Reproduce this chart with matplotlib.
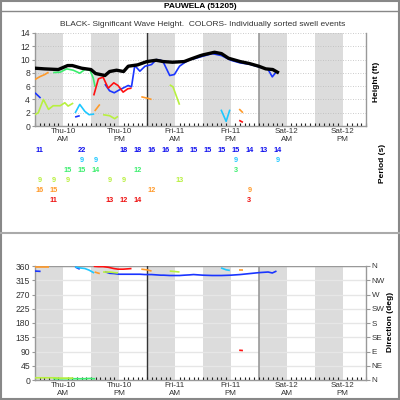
import matplotlib
matplotlib.use("Agg")
import matplotlib.pyplot as plt
from matplotlib.lines import Line2D
from matplotlib.patches import Rectangle

plt.rcParams['font.family'] = ['Liberation Sans', 'DejaVu Sans']

# ---------------- DATA ----------------
# hours since Thu-10 00:00
hs_hours = [0, 2, 5, 7, 8, 10, 12, 13, 15, 16, 17.5, 19, 20, 22, 24, 26, 27.5, 29.5, 32, 33.5,
            35.5, 36, 38.5, 40, 41.5, 44, 46, 48, 49.5, 51, 52]
hs_vals = [8.7, 8.6, 8.5, 9.1, 9.1, 8.7, 8.5, 7.9, 7.6, 8.2, 8.4, 8.2, 9.0, 9.2, 9.7, 9.9, 9.7, 9.6,
           9.7, 10.1, 10.6, 10.7, 11.1, 10.9, 10.2, 9.7, 9.4, 9.0, 8.6, 8.5, 8.1]

blue_a_h = [0, 1.2];  blue_a_v = [5.0, 4.2]
blue_b_h = [8.6, 9.6]; blue_b_v = [1.35, 1.55]
blue_h = [15, 16, 17, 18, 19, 20, 20.7, 21.4, 22.5, 23.6, 25, 26, 27, 27.6, 28.9, 29.9, 31, 32, 33.2,
          34, 36, 38, 40, 42, 44, 46, 48, 50, 50.9, 51.8]
blue_v = [6.3, 5.3, 5.0, 5.4, 5.75, 6.1, 5.9, 9.1, 8.25, 9.0, 9.25, 10.0, 9.9, 9.5, 7.6, 7.75, 9.0, 9.5,
          10.0, 10.1, 10.5, 10.9, 10.6, 9.9, 9.5, 9.3, 8.9, 8.5, 7.4, 8.2]

cyan_a_h = [8.6, 9.6, 10.7, 11.6, 12.7]; cyan_a_v = [1.95, 3.25, 2.2, 1.7, 1.8]
cyan_b_h = [39.9, 41.0, 41.8];           cyan_b_v = [2.46, 0.7, 2.46]

green_h = [3.9, 5.4, 6.8, 8.2, 9.6, 10.7, 11.8, 12.5, 12.9]
green_v = [8.05, 8.1, 8.6, 8.4, 7.95, 8.5, 8.4, 7.2, 5.9]

yell_a_h = [0, 0.7, 1.8, 2.9, 3.9, 5.4, 6.4, 7.1, 8.2]
yell_a_v = [1.7, 2.0, 4.0, 2.5, 3.05, 3.05, 3.5, 3.0, 3.45]
yell_b_h = [14.6, 16, 17.1, 17.8]; yell_b_v = [1.7, 1.55, 1.1, 1.45]
yell_c_h = [28.9, 29.6, 31];       yell_c_v = [6.2, 5.9, 3.2]

orng_a_h = [0, 1.1, 2.1, 2.9];     orng_a_v = [7.0, 7.45, 7.75, 8.1]
orng_b_h = [12.8, 13.9];           orng_b_v = [2.25, 3.25]
orng_c_h = [22.8, 24, 25];         orng_c_v = [4.4, 4.2, 4.0]
orng_d_h = [43.8, 44.6];           orng_d_v = [2.55, 2.0]

red_a_h = [12.6, 13.6, 14.6, 15.7, 16.9, 17.8, 18.9, 19.9, 20.7]
red_a_v = [4.6, 7.1, 7.35, 5.7, 6.5, 6.1, 5.1, 5.6, 5.7]
red_b_h = [43.8, 44.6];            red_b_v = [0.85, 0.55]

# directions (deg)
dir_blue_a = [344, 343]
dir_blue_b = [357, 350]
dir_blue = [342, 337, 336, 334, 334, 334, 334, 334, 334, 333, 333, 332, 331, 331, 330, 330, 330, 331,
            332, 333, 331, 330, 330, 331, 333, 336, 339, 341, 338, 344]
dir_cyan_a = [357, 354, 352, 347, 338]
dir_cyan_b = [354, 348, 346]
dir_green = [4, 4, 4, 4, 4, 4, 5, 4, 4]
dir_yell_a = [7, 7, 7, 7, 7, 6, 6, 6, 6]
dir_yell_b = [341, 341, 339, 338]
dir_yell_c = [344, 343, 341]
dir_orng_a = [358, 358, 358, 358]
dir_orng_b = [341, 336]
dir_orng_c = [350, 348, 344]
dir_orng_d = [348, 348]
dir_red_a = [359, 358, 358, 356, 352, 350, 350, 351, 352]
dir_red_b = [94, 93]

# periods (s) every 3 hours
per_blue = {1: 11, 10: 22, 19: 18, 22: 18, 25: 16, 28: 16, 31: 16, 34: 15, 37: 15, 40: 15, 43: 15,
            46: 14, 49: 13, 52: 14}
per_cyan = {10: 9, 13: 9, 43: 9, 52: 9}
per_green = {7: 15, 10: 15, 13: 14, 22: 12, 43: 3}
per_yell = {1: 9, 4: 9, 7: 9, 16: 9, 19: 9, 31: 13}
per_orng = {1: 16, 4: 15, 25: 12, 46: 9}
per_red = {4: 11, 16: 13, 19: 12, 22: 14, 46: 3}

tick_hours = [6, 18, 30, 42, 54, 66]
tick_labels = ['Thu-10\nAM', 'Thu-10\nPM', 'Fri-11\nAM', 'Fri-11\nPM', 'Sat-12\nAM', 'Sat-12\nPM']
dir_ticks = [0, 45, 90, 135, 180, 225, 270, 315, 360]
dir_names = ['N', 'NE', 'E', 'SE', 'S', 'SW', 'W', 'NW', 'N']

# ---------------- STYLE ----------------
C_BLUE = '#1a35ff'
C_CYAN = '#1ec8ff'
C_GREEN = '#3cee6e'
C_YELL = '#b8f040'
C_ORNG = '#ff9a2a'
C_RED = '#ff1010'
TXT = '#333333'
FS = 5.8

fig = plt.figure(figsize=(4, 4), dpi=100)
fig.patch.set_facecolor('white')

def px(x0, y0, x1, y1):
    return [x0 / 400, 1 - y1 / 400, (x1 - x0) / 400, (y1 - y0) / 400]

XMAX = 71

def style_time_axis(ax):
    ax.set_xlim(0, XMAX)
    for s in range(0, XMAX, 12):
        ax.axvspan(s, s + 6, color='#dcdcdc', lw=0, zorder=0)
    ax.axvline(24, color='#333333', lw=1.0, zorder=1)
    ax.axvline(48, color='#999999', lw=1.2, zorder=1)
    ax.set_xticks(tick_hours)
    ax.set_xticks(range(0, XMAX + 1), minor=True)
    ax.tick_params(axis='x', which='major', length=0, labelsize=FS, colors=TXT, pad=1.5)
    ax.tick_params(axis='x', which='minor', length=2, direction='in', color='#222222', width=0.8)
    ax.spines['top'].set_visible(False)
    for sp in ['left', 'bottom', 'right']:
        ax.spines[sp].set_color('#999999')
        ax.spines[sp].set_linewidth(1.0)

# ---------- top panel ----------
ax1 = fig.add_axes(px(35, 33, 366, 126))
style_time_axis(ax1)
ax1.set_xticklabels(tick_labels, linespacing=1.25)
ax1.set_ylim(0, 14)
ax1.set_yticks(range(0, 15, 2))
ax1.tick_params(axis='y', labelsize=FS + 0.4, colors=TXT, length=2, color='#999999', pad=1.5)
for yv in range(2, 15, 2):
    ax1.axhline(yv, color='#bbbbbb', lw=0.6, ls=(0, (1, 2)), zorder=0.5)

segs = [
    (blue_a_h, blue_a_v, C_BLUE), (blue_b_h, blue_b_v, C_BLUE), (blue_h, blue_v, C_BLUE),
    (cyan_a_h, cyan_a_v, C_CYAN), (cyan_b_h, cyan_b_v, C_CYAN),
    (green_h, green_v, C_GREEN),
    (yell_a_h, yell_a_v, C_YELL), (yell_b_h, yell_b_v, C_YELL), (yell_c_h, yell_c_v, C_YELL),
    (orng_a_h, orng_a_v, C_ORNG), (orng_b_h, orng_b_v, C_ORNG), (orng_c_h, orng_c_v, C_ORNG),
    (orng_d_h, orng_d_v, C_ORNG),
    (red_a_h, red_a_v, C_RED), (red_b_h, red_b_v, C_RED),
]
for h, v, c in segs:
    ax1.plot(h, v, color=c, lw=1.2, zorder=3, solid_capstyle='butt')
ax1.plot(hs_hours, hs_vals, color='black', lw=2.4, zorder=4)

# ---------- period table ----------
axp = fig.add_axes(px(35, 146, 366, 206))
axp.set_xlim(0, XMAX)
axp.set_ylim(6.5, 0.5)
axp.axis('off')
rows = [(per_blue, '#1010ee'), (per_cyan, C_CYAN), (per_green, C_GREEN),
        (per_yell, C_YELL), (per_orng, C_ORNG), (per_red, '#ee1010')]
for r, (d, c) in enumerate(rows, start=1):
    for hr, val in d.items():
        axp.text(hr, r, str(val), color=c, fontsize=5.3, fontweight='bold',
                 ha='center', va='center')

# ---------- direction panel ----------
ax2 = fig.add_axes(px(35, 266, 366, 380))
style_time_axis(ax2)
ax2.set_xticklabels(tick_labels, linespacing=1.2)
ax2.set_ylim(0, 360)
ax2.set_yticks(dir_ticks)
ax2.tick_params(axis='y', labelsize=FS + 0.4, colors=TXT, length=2, color='#999999', pad=1.5)
for yv in dir_ticks[1:]:
    ax2.axhline(yv, color='#e6e6e6', lw=1.0, zorder=0.5)
ax2.axhline(360, color='#999999', lw=1.0, zorder=0.6)

dsegs = [
    (blue_a_h, dir_blue_a, C_BLUE), (blue_b_h, dir_blue_b, C_BLUE), (blue_h, dir_blue, C_BLUE),
    (cyan_a_h, dir_cyan_a, C_CYAN), (cyan_b_h, dir_cyan_b, C_CYAN),
    (green_h, dir_green, C_GREEN),
    (yell_a_h, dir_yell_a, C_YELL), (yell_b_h, dir_yell_b, C_YELL), (yell_c_h, dir_yell_c, C_YELL),
    (orng_a_h, dir_orng_a, C_ORNG), (orng_b_h, dir_orng_b, C_ORNG), (orng_c_h, dir_orng_c, C_ORNG),
    (orng_d_h, dir_orng_d, C_ORNG),
    (red_a_h, dir_red_a, C_RED), (red_b_h, dir_red_b, C_RED),
]
for h, v, c in dsegs:
    ax2.plot(h, v, color=c, lw=1.2, zorder=3, solid_capstyle='butt')

ax2r = ax2.twinx()
ax2r.set_ylim(0, 360)
ax2r.set_yticks(dir_ticks)
ax2r.set_yticklabels(dir_names)
ax2r.tick_params(axis='y', labelsize=FS, colors=TXT, length=3, color='#999999', pad=1)
for sp in ax2r.spines.values():
    sp.set_visible(False)

# ---------- texts / frame ----------
fig.text(200 / 400, 1 - 6 / 400, 'PAUWELA (51205)', ha='center', va='center',
         fontsize=6.0, fontweight='bold', color='black')
fig.text(203 / 400, 1 - 25 / 400,
         'BLACK- Significant Wave Height.  COLORS- Individually sorted swell events',
         ha='center', va='center', fontsize=6.0, color=TXT)
fig.text(377 / 400, 1 - 82 / 400, 'Height (ft)', rotation=90, ha='center', va='center',
         fontsize=6.0, fontweight='bold', color='black')
fig.text(382 / 400, 1 - 163 / 400, 'Period (s)', rotation=90, ha='center', va='center',
         fontsize=6.0, fontweight='bold', color='black')
fig.text(391 / 400, 1 - 322 / 400, 'Direction (deg)', rotation=90, ha='center', va='center',
         fontsize=6.0, fontweight='bold', color='black')

fig.add_artist(Line2D([0.005, 0.998], [1 - 11 / 400] * 2, color='#888888', lw=1.0))
fig.add_artist(Line2D([0.0, 1.0], [1 - 233 / 400] * 2, color='#aaaaaa', lw=1.5))
fig.add_artist(Rectangle((0.002, 0.002), 0.996, 0.996, fill=False, ec='#888888', lw=1.5,
                         transform=fig.transFigure))

fig.savefig('out.png', dpi=100)
